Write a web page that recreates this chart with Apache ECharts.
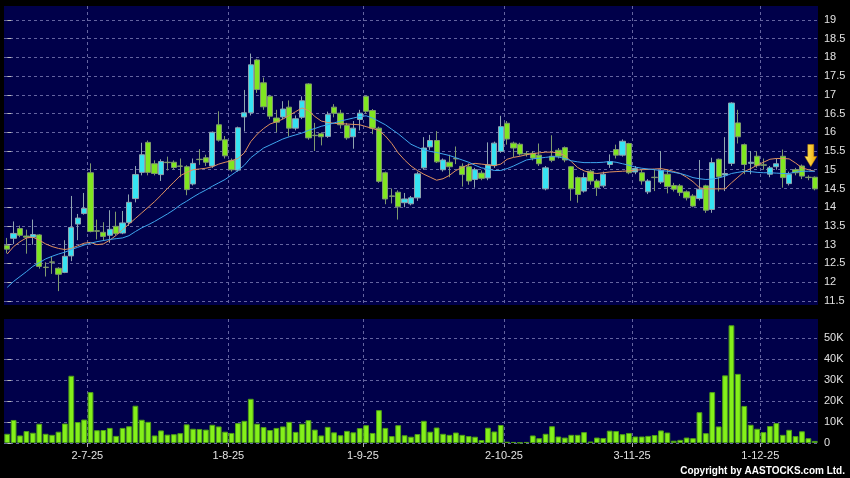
<!DOCTYPE html>
<html><head><meta charset="utf-8">
<script src="https://cdn.jsdelivr.net/npm/echarts@6/dist/echarts.min.js"></script>
<style>html,body{margin:0;padding:0;background:#000;}#c{width:850px;height:478px;}</style>
</head><body><div id="c"></div>
<script>
const dates = [
'2025-06-13','2025-06-16','2025-06-17','2025-06-18','2025-06-19','2025-06-20','2025-06-23','2025-06-24','2025-06-25','2025-06-26','2025-06-27','2025-06-30',
'2025-07-02','2025-07-03','2025-07-04','2025-07-07','2025-07-08','2025-07-09','2025-07-10','2025-07-11','2025-07-14','2025-07-15','2025-07-16','2025-07-17','2025-07-18','2025-07-21','2025-07-22','2025-07-23','2025-07-24','2025-07-25','2025-07-28','2025-07-29','2025-07-30','2025-07-31',
'2025-08-01','2025-08-04','2025-08-05','2025-08-06','2025-08-07','2025-08-08','2025-08-11','2025-08-12','2025-08-13','2025-08-14','2025-08-15','2025-08-18','2025-08-19','2025-08-20','2025-08-21','2025-08-22','2025-08-25','2025-08-26','2025-08-27','2025-08-28','2025-08-29',
'2025-09-01','2025-09-02','2025-09-03','2025-09-04','2025-09-05','2025-09-08','2025-09-09','2025-09-10','2025-09-11','2025-09-12','2025-09-15','2025-09-16','2025-09-17','2025-09-18','2025-09-19','2025-09-22','2025-09-23','2025-09-24','2025-09-25','2025-09-26','2025-09-29','2025-09-30',
'2025-10-02','2025-10-03','2025-10-06','2025-10-08','2025-10-09','2025-10-10','2025-10-13','2025-10-14','2025-10-15','2025-10-16','2025-10-17','2025-10-20','2025-10-21','2025-10-22','2025-10-23','2025-10-24','2025-10-27','2025-10-28','2025-10-30','2025-10-31',
'2025-11-03','2025-11-04','2025-11-05','2025-11-06','2025-11-07','2025-11-10','2025-11-11','2025-11-12','2025-11-13','2025-11-14','2025-11-17','2025-11-18','2025-11-19','2025-11-20','2025-11-21','2025-11-24','2025-11-25','2025-11-26','2025-11-27','2025-11-28',
'2025-12-01','2025-12-02','2025-12-03','2025-12-04','2025-12-05','2025-12-08','2025-12-09','2025-12-10','2025-12-11','2025-12-12'];

const open = [
12.98,13.17,13.43,13.23,13.20,13.26,12.40,12.54,12.37,12.26,
12.70,13.55,13.83,14.92,13.37,13.33,13.25,13.49,13.31,13.59,
14.23,14.93,15.73,15.16,14.87,15.20,15.20,15.10,15.08,14.62,
15.28,15.32,15.10,16.20,15.80,15.25,14.99,16.41,16.52,17.93,
17.32,16.96,16.38,16.41,16.67,16.11,16.40,17.29,15.92,15.96,
15.89,16.67,16.51,16.18,15.88,16.34,16.96,16.58,16.11,14.92,
14.30,14.40,14.12,14.09,14.25,15.05,15.61,15.78,15.00,15.20,
15.30,15.09,15.08,14.74,14.91,14.78,15.11,15.49,16.24,15.71,
15.68,15.43,15.44,15.39,14.49,15.36,15.52,15.59,15.08,14.79,
14.43,14.96,14.70,14.57,15.14,15.54,15.39,15.70,14.94,14.92,
14.41,14.80,14.67,14.88,14.58,14.57,14.41,14.30,14.23,14.57,
13.94,15.28,14.86,15.17,16.25,15.67,15.17,15.36,15.13,14.88,
15.08,15.36,14.63,15.00,15.10,14.80,14.80];

const close = [
12.88,13.30,13.25,13.20,13.27,12.42,12.39,12.53,12.21,12.69,
13.46,13.71,13.97,13.35,13.36,13.22,13.41,13.30,13.58,14.13,
14.87,15.40,14.93,14.90,15.22,15.19,15.06,15.09,14.47,15.17,
15.27,15.20,16.00,15.79,15.37,15.00,16.12,16.52,17.80,17.14,
16.68,16.43,16.27,16.62,16.11,16.36,16.84,15.85,15.91,15.88,
16.47,16.51,16.20,15.85,16.11,16.51,16.56,16.11,14.69,14.22,
14.29,14.01,14.22,14.25,14.89,15.58,15.78,15.21,15.26,15.08,
15.29,14.87,14.70,15.00,14.77,15.13,15.71,16.15,15.82,15.58,
15.42,15.42,15.31,15.16,15.05,15.25,15.36,15.26,14.49,14.34,
14.79,14.70,14.52,14.88,15.22,15.39,15.76,14.92,15.03,14.70,
14.70,14.79,14.98,14.55,14.48,14.39,14.25,14.03,14.48,13.92,
15.19,14.81,14.90,16.78,15.88,15.14,15.20,15.11,15.12,15.05,
15.16,14.79,14.88,14.92,14.83,14.79,14.49];

const low = [
12.77,13.02,13.20,12.76,13.00,12.36,12.15,12.22,11.76,12.24,
12.56,13.12,13.80,13.33,13.14,13.10,13.05,13.25,13.28,13.50,
14.13,14.85,14.85,14.85,14.70,14.98,15.00,14.80,14.32,14.58,
15.13,15.10,15.05,15.75,15.30,14.95,14.95,16.02,16.45,17.05,
16.60,16.35,16.00,16.35,15.89,16.05,16.35,15.80,15.50,15.65,
15.85,16.40,16.10,15.80,15.56,16.05,16.50,15.95,14.65,14.08,
14.10,13.67,14.00,14.05,14.17,15.00,15.53,15.18,14.95,14.80,
15.15,14.55,14.60,14.52,14.72,14.72,15.05,15.45,15.67,15.34,
15.38,15.35,15.25,15.10,14.45,15.20,15.30,15.20,14.17,14.12,
14.39,14.60,14.30,14.52,15.05,15.30,15.35,14.88,14.88,14.60,
14.35,14.43,14.62,14.37,14.42,14.30,14.18,14.00,14.18,13.85,
13.85,14.42,14.43,15.10,15.70,14.88,14.88,15.05,15.00,14.80,
15.00,14.52,14.58,14.85,14.75,14.72,14.45];

const high = [
13.18,13.62,13.51,13.40,13.67,13.28,12.53,12.68,12.40,13.12,
14.30,13.82,14.38,15.17,13.67,13.60,13.92,13.88,13.90,14.34,
15.10,15.72,15.78,15.25,15.28,15.35,15.25,15.30,15.12,15.30,
15.55,15.40,16.02,16.56,15.90,15.30,16.15,17.13,18.10,17.96,
17.46,17.00,16.60,16.83,16.85,16.45,16.96,17.31,16.25,16.00,
16.55,16.75,16.60,16.25,16.30,16.60,16.98,16.62,16.15,14.95,
14.50,14.45,14.38,14.30,14.95,15.87,15.93,16.03,15.30,15.40,
15.62,15.17,15.17,15.05,14.98,15.73,15.75,16.44,16.30,15.75,
15.72,15.50,15.50,15.70,15.10,15.92,15.58,15.62,15.10,14.82,
14.92,15.00,14.75,14.95,15.41,15.67,15.81,15.72,15.10,15.00,
14.75,15.00,15.50,15.01,14.65,14.62,14.45,14.35,15.26,14.60,
15.32,15.30,15.87,16.80,16.60,15.70,15.50,15.49,15.30,15.10,
15.30,15.54,14.95,15.05,15.14,14.85,14.82];

// volume in thousands of shares
const volumeK = [
4.4,11,3.6,5.7,4.9,9.2,4.4,3.9,5.4,9.3,
32.1,10,11.2,24.3,6.1,6.2,7.2,3.4,7.2,8.0,
17.8,11.1,10.1,3.6,6.0,4.0,4.2,4.7,8.9,6.8,
6.7,6.4,8.7,7.9,5.4,4.8,9.5,10.6,21.1,9.2,
7.6,6.2,7.2,7.9,10.1,5.3,9.2,10.9,6.4,3.6,
7.7,5.1,3.7,5.8,5.1,7.1,8.5,4.8,15.7,7.2,
3.3,8.5,3.7,3.0,4.3,10.6,5.4,7.4,4.4,3.9,
5.0,3.9,3.3,3.0,1.4,7.3,5.5,8.6,0.6,0.5,
0.2,0.5,3.6,2.3,4.4,8.0,3.1,2.6,3.9,3.9,
5.2,0.7,2.6,2.4,5.9,5.7,4.2,4.8,3.1,3.1,
3.4,3.8,6.0,5.0,1.1,1.5,2.6,2.3,14.7,4.7,
24.3,7.9,32.3,56.2,33.0,17.7,8.7,6.8,5.2,8.1,
9.5,3.9,6.3,3.3,5.6,2.3,1.0];

// moving averages
const maShort = [
12.75,12.95,13.08,13.18,13.2,13.12,13.02,12.95,12.9,12.87,
12.9,12.97,13.04,13.06,13.0,13.02,13.12,13.25,13.4,13.55,
13.7,13.85,14.0,14.15,14.32,14.5,14.67,14.84,14.93,15.0,
15.02,15.04,15.08,15.15,15.2,15.24,15.3,15.45,15.75,15.95,
16.1,16.22,16.28,16.35,16.45,16.55,16.65,16.58,16.42,16.3,
16.26,16.24,16.23,16.22,16.21,16.2,16.15,16.1,16.05,15.9,
15.7,15.45,15.26,15.1,14.98,14.88,14.8,14.72,14.76,14.85,
14.98,15.06,15.14,15.17,15.15,15.13,15.11,15.15,15.28,15.33,
15.36,15.4,15.43,15.45,15.47,15.47,15.45,15.38,15.22,15.06,
14.97,14.92,14.9,14.92,14.94,14.95,14.96,14.97,14.99,15.0,
15.01,15.02,15.03,15.0,14.95,14.9,14.8,14.68,14.52,14.49,
14.49,14.49,14.49,14.65,14.8,14.95,15.03,15.12,15.2,15.28,
15.3,15.3,15.29,15.18,15.05,15.0,14.96];

const maLong = [
11.86,12.02,12.15,12.28,12.42,12.52,12.62,12.69,12.75,12.8,
12.87,12.93,12.99,13.04,13.08,13.11,13.14,13.16,13.18,13.24,
13.35,13.45,13.53,13.62,13.72,13.82,13.93,14.06,14.16,14.27,
14.37,14.46,14.56,14.65,14.74,14.86,14.98,15.12,15.32,15.45,
15.58,15.66,15.74,15.82,15.88,15.93,15.98,16.05,16.1,16.16,
16.2,16.25,16.3,16.34,16.38,16.42,16.44,16.38,16.29,16.2,
16.08,15.96,15.82,15.68,15.6,15.53,15.49,15.46,15.42,15.38,
15.32,15.26,15.2,15.12,15.05,15.02,14.98,14.98,15.03,15.1,
15.18,15.26,15.29,15.31,15.33,15.35,15.34,15.3,15.24,15.21,
15.19,15.19,15.19,15.2,15.22,15.2,15.16,15.12,15.07,15.04,
15.02,15.0,14.98,14.96,14.93,14.9,14.85,14.79,14.76,14.74,
14.75,14.78,14.83,14.9,14.93,14.96,14.95,14.93,14.92,14.92,
14.91,14.9,14.9,14.94,14.96,14.96,14.96];

const priceTicks = [11.5,12,12.5,13,13.5,14,14.5,15,15.5,16,16.5,17,17.5,18,18.5,19];
const volumeTicks = [0,10,20,30,40,50];
const tickDates = ['2025-07-02','2025-08-01','2025-09-01','2025-10-02','2025-11-03','2025-12-01'];
const tickLabels = ['2-7-25','1-8-25','1-9-25','2-10-25','3-11-25','1-12-25'];

const n = dates.length;
const candleData = dates.map((d, i) => [open[i], close[i], low[i], high[i]]);
const tickPos = tickDates.map(d => dates.indexOf(d) + 0.5);
const labelAt = {};
tickPos.forEach((p, k) => { labelAt[p] = tickLabels[k]; });

const FONT = 'Arial, "Liberation Sans", sans-serif';
const TXT = '#e2e2e2';
const gridLine = { color: '#6464a0', type: [3, 3], width: 1 };
const PLOT_BG = '#00004a';

const hiddenCat = (gi, pos) => ({
  type: 'category', data: dates, gridIndex: gi, position: pos, boundaryGap: true,
  axisLine: { show: false }, axisTick: { show: false }, axisLabel: { show: false }, splitLine: { show: false }
});

const chart = echarts.init(document.getElementById('c'));
chart.setOption({
  backgroundColor: '#000',
  animation: false,
  grid: [
    { left: 4, right: 32, top: 6, height: 299, show: true, backgroundColor: PLOT_BG, borderWidth: 0 },
    { left: 4, right: 32, top: 319, height: 124, show: true, backgroundColor: PLOT_BG, borderWidth: 0 }
  ],
  xAxis: [
    hiddenCat(0, 'bottom'),
    hiddenCat(1, 'top'),
    { type: 'value', gridIndex: 0, position: 'top', min: -0.5, max: n - 0.5,
      axisLine: { show: false, onZero: false },
      axisTick: { show: false, customValues: tickPos },
      axisLabel: { show: false, customValues: tickPos },
      splitLine: { show: true, lineStyle: gridLine } },
    { type: 'value', gridIndex: 1, position: 'bottom', min: -0.5, max: n - 0.5,
      axisLine: { show: false, onZero: false },
      axisTick: { show: true, customValues: tickPos, length: 4, lineStyle: { color: '#aaaaaa' } },
      axisLabel: { show: true, customValues: tickPos, formatter: v => labelAt[v] || '',
        color: TXT, fontSize: 11, fontFamily: FONT, margin: 7 },
      splitLine: { show: true, lineStyle: gridLine } }
  ],
  yAxis: [
    { type: 'value', gridIndex: 0, position: 'right', min: 11.39, max: 19.37,
      axisLine: { show: false },
      axisTick: { show: true, customValues: priceTicks, length: 4, lineStyle: { color: '#bbbbbb' } },
      axisLabel: { customValues: priceTicks, color: TXT, fontSize: 11, fontFamily: FONT, margin: 6 },
      splitLine: { show: true, lineStyle: gridLine } },
    { type: 'value', gridIndex: 1, position: 'right', min: 0, max: 59.2,
      axisLine: { show: false },
      axisTick: { show: true, customValues: volumeTicks, length: 4, lineStyle: { color: '#bbbbbb' } },
      axisLabel: { customValues: volumeTicks, formatter: v => v === 0 ? '0' : v + 'K',
        color: TXT, fontSize: 11, fontFamily: FONT, margin: 6 },
      splitLine: { show: true, lineStyle: gridLine } }
  ],
  series: [
    { type: 'candlestick', xAxisIndex: 0, yAxisIndex: 0, data: candleData, barWidth: '90%',
      itemStyle: { color: '#36e3f2', color0: '#80e620', borderColor: '#8fa4b0', borderColor0: '#7f9a6e', borderWidth: 1 },
      markPoint: {
        symbol: 'path://M3,0L9,0L9,12L12,12L6,22L0,12L3,12Z',
        symbolSize: [12, 22], symbolOffset: [-4, -21], label: { show: false },
        itemStyle: {
          color: new echarts.graphic.LinearGradient(0, 0, 1, 0, [
            { offset: 0, color: '#fff06a' }, { offset: 1, color: '#f0a400' }]),
          borderColor: '#c98a00', borderWidth: 0.5 },
        data: [{ coord: [dates[n - 1], high[n - 1]] }]
      } },
    { type: 'line', xAxisIndex: 0, yAxisIndex: 0, data: maShort, symbol: 'none', z: 4,
      lineStyle: { color: '#e0915e', width: 1 } },
    { type: 'line', xAxisIndex: 0, yAxisIndex: 0, data: maLong, symbol: 'none', z: 4,
      lineStyle: { color: '#3fa6ee', width: 1 } },
    { type: 'bar', xAxisIndex: 1, yAxisIndex: 1, data: volumeK, barWidth: '90%',
      itemStyle: { color: '#84f01a', borderColor: '#4e9e18', borderWidth: 1 } }
  ],
  graphic: [
    { type: 'text', right: 5, bottom: 2,
      style: { text: 'Copyright by AASTOCKS.com Ltd.', fill: '#ffffff', font: 'bold 10px ' + FONT } }
  ]
});
</script>
</body></html>
